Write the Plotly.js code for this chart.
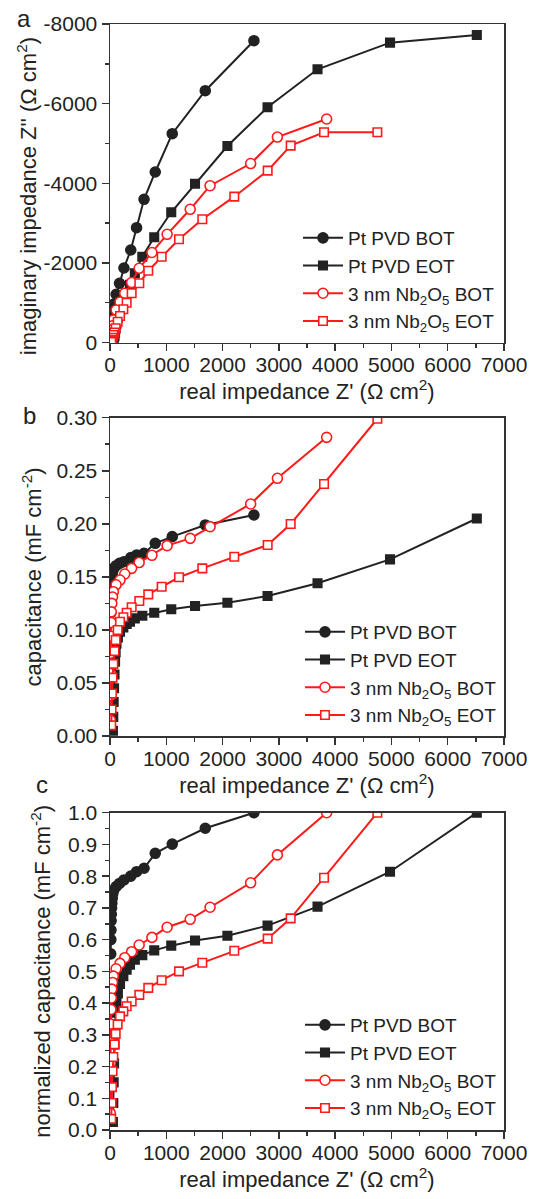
<!DOCTYPE html>
<html>
<head>
<meta charset="utf-8">
<script src="https://cdn.plot.ly/plotly-3.0.1.min.js"></script>
<style>html,body{margin:0;padding:0;background:#fff;}#chart{width:534px;height:1199px;}</style>
</head>
<body>
<div id="chart"></div>
<script>
// ---------- data ----------
const seriesNames = ["Pt PVD BOT", "Pt PVD EOT", "3 nm Nb<sub>2</sub>O<sub>5</sub> BOT", "3 nm Nb<sub>2</sub>O<sub>5</sub> EOT"];

// Pt PVD BOT
const xPtBOT = [2557, 1693, 1106, 804, 605, 472, 369, 248, 169, 109, 66, 50, 40, 33, 28, 24, 20, 17, 15, 13];
const zPtBOT = [-7581, -6325, -5245, -4283, -3597, -2884, -2324, -1871, -1487, -1211, -960, -800, -650, -500, -380, -270, -180, -110, -60, -25];
const cPtBOT = [0.2083, 0.1989, 0.1879, 0.1816, 0.1722, 0.1706, 0.1681, 0.1643, 0.1627, 0.1605, 0.158, 0.156, 0.153, 0.150, 0.147, 0.143, 0.138, 0.132, 0.125, 0.116];
const nPtBOT = [1.0, 0.951, 0.901, 0.872, 0.825, 0.814, 0.80, 0.788, 0.777, 0.767, 0.756, 0.745, 0.73, 0.715, 0.70, 0.68, 0.66, 0.63, 0.60, 0.555];

// Pt PVD EOT
const xPtEOT = [6517, 4975, 3687, 2799, 2086, 1511, 1088, 786, 574, 441, 355, 296, 237, 178, 140, 115, 100, 90, 80, 72, 65, 58, 52];
const zPtEOT = [-7724, -7531, -6863, -5908, -4936, -3989, -3271, -2643, -2155, -1738, -1450, -1230, -1010, -800, -620, -470, -350, -250, -170, -110, -65, -30, -10];
const cPtEOT = [0.205, 0.1665, 0.144, 0.132, 0.1256, 0.1225, 0.1194, 0.1162, 0.1134, 0.1109, 0.1077, 0.1055, 0.1024, 0.0983, 0.093, 0.087, 0.079, 0.070, 0.058, 0.045, 0.032, 0.018, 0.005];
const nPtEOT = [1.0, 0.814, 0.704, 0.644, 0.612, 0.597, 0.581, 0.566, 0.551, 0.537, 0.521, 0.505, 0.485, 0.46, 0.43, 0.40, 0.37, 0.33, 0.27, 0.21, 0.15, 0.085, 0.025];

// 3 nm Nb2O5 BOT
const xNbBOT = [3849, 2974, 2499, 1778, 1425, 1015, 745, 518, 384, 262, 178, 108, 60, 45, 32, 24, 18, 14, 11, 9, 7, 6];
const zNbBOT = [-5614, -5160, -4495, -3939, -3346, -2718, -2261, -1864, -1507, -1236, -1018, -816, -565, -420, -314, -230, -160, -105, -65, -38, -18, -6];
const cNbBOT = [0.2815, 0.2429, 0.2187, 0.1973, 0.1863, 0.1794, 0.1703, 0.1635, 0.158, 0.1527, 0.147, 0.1425, 0.136, 0.131, 0.125, 0.117, 0.107, 0.094, 0.078, 0.059, 0.038, 0.015];
const nNbBOT = [1.0, 0.867, 0.779, 0.702, 0.664, 0.639, 0.607, 0.583, 0.562, 0.543, 0.525, 0.508, 0.485, 0.465, 0.444, 0.416, 0.38, 0.334, 0.277, 0.21, 0.135, 0.053];

// 3 nm Nb2O5 EOT
const xNbEOT = [4750, 3803, 3210, 2801, 2208, 1640, 1226, 918, 680, 521, 385, 296, 237, 178, 136, 101, 80, 59, 45, 35, 28, 22];
const zNbEOT = [-5280, -5280, -4944, -4316, -3663, -3095, -2592, -2155, -1804, -1487, -1236, -1000, -834, -666, -523, -357, -250, -188, -120, -70, -35, -12];
const cNbEOT = [0.299, 0.2375, 0.1998, 0.180, 0.169, 0.158, 0.1496, 0.1407, 0.1335, 0.1272, 0.1213, 0.1162, 0.1119, 0.1077, 0.0999, 0.0905, 0.080, 0.068, 0.055, 0.040, 0.025, 0.010];
const nNbEOT = [1.0, 0.795, 0.667, 0.603, 0.565, 0.527, 0.50, 0.472, 0.448, 0.426, 0.405, 0.390, 0.374, 0.358, 0.333, 0.303, 0.27, 0.23, 0.185, 0.135, 0.085, 0.035];

// tick labels
const xTicks = [0, 1000, 2000, 3000, 4000, 5000, 6000, 7000];
const yTicksA = [0, -2000, -4000, -6000, -8000];
const yTickTextA = ["0", "-2000", "-4000", "-6000", "-8000"];

// ---------- styling ----------
const FONT = "Liberation Sans, Arial, Helvetica, sans-serif";
const BLACK = "#222222";
const RED = "#ff1a1a";
const AX = "#333333";

const styles = [
  {color: BLACK, symbol: "circle", size: 10, fill: BLACK},
  {color: BLACK, symbol: "square", size: 8.5, fill: BLACK},
  {color: RED, symbol: "circle", size: 10, fill: "#ffffff"},
  {color: RED, symbol: "square", size: 8.5, fill: "#ffffff"}
];

const xs = [xPtBOT, xPtEOT, xNbBOT, xNbEOT];
const panels = [
  {ys: [zPtBOT, zPtEOT, zNbBOT, zNbEOT], xa: "x", ya: "y", legend: "legend"},
  {ys: [cPtBOT, cPtEOT, cNbBOT, cNbEOT], xa: "x2", ya: "y2", legend: "legend2"},
  {ys: [nPtBOT, nPtEOT, nNbBOT, nNbEOT], xa: "x3", ya: "y3", legend: "legend3"}
];

const traces = [];
panels.forEach(p => {
  for (let i = 0; i < 4; i++) {
    const s = styles[i];
    traces.push({
      type: "scatter", mode: "lines+markers",
      x: xs[i], y: p.ys[i], xaxis: p.xa, yaxis: p.ya, legend: p.legend,
      name: seriesNames[i],
      line: {color: s.color, width: 2},
      marker: {symbol: s.symbol, size: s.size, color: s.fill, line: {color: s.color, width: 1.6}},
      hoverinfo: "skip"
    });
  }
});

// ---------- layout ----------
const plotL = 110, plotR = 504, plotT = 24, plotB = 1130;
const ph = plotB - plotT, pw = plotR - plotL;
const py = v => (plotB - v) / ph;   // pixel row -> paper y
const px = v => (v - plotL) / pw;   // pixel col -> paper x

const tickFont = {family: FONT, size: 21, color: BLACK};
const titleFont = {family: FONT, size: 22, color: BLACK};

function xAxis(anchor, standoff) {
  return {
    anchor: anchor, range: [0, 7000], tickmode: "array", tickvals: xTicks,
    ticks: "outside", ticklen: 7, tickwidth: 1.5, tickcolor: AX, ticklabelstandoff: -4,
    minor: {tickmode: "linear", tick0: 0, dtick: 500, ticks: "outside", ticklen: 4, tickwidth: 1.5, tickcolor: AX},
    showline: true, linecolor: AX, linewidth: 1.5, mirror: true,
    showgrid: false, zeroline: false, tickfont: tickFont,
    title: {text: "real impedance Z' (Ω cm<sup>2</sup>)", font: titleFont, standoff: standoff},
    automargin: false
  };
}
function yAxisBase(anchor, domain) {
  return {
    anchor: anchor, domain: domain,
    ticks: "outside", ticklen: 7, tickwidth: 1.5, tickcolor: AX,
    showline: true, linecolor: AX, linewidth: 1.5, mirror: true,
    showgrid: false, zeroline: false, tickfont: tickFont, automargin: false
  };
}

const domA = [py(342.5), 1];
const domB = [py(736), py(417.7)];
const domC = [0, py(812.7)];

const yA = Object.assign(yAxisBase("x", domA), {
  range: [0, -8000], tickmode: "array", tickvals: yTicksA, ticktext: yTickTextA,
  minor: {tickmode: "linear", tick0: 0, dtick: 1000, ticks: "outside", ticklen: 4, tickwidth: 1.5, tickcolor: AX}
});
const yB = Object.assign(yAxisBase("x2", domB), {
  range: [0, 0.30], tickmode: "linear", tick0: 0, dtick: 0.05, tickformat: ".2f",
  minor: {tickmode: "linear", tick0: 0, dtick: 0.025, ticks: "outside", ticklen: 4, tickwidth: 1.5, tickcolor: AX},
  title: {text: "capacitance (mF cm<sup>-2</sup>)", font: titleFont, standoff: 8}
});
const yC = Object.assign(yAxisBase("x3", domC), {
  range: [0, 1.0], tickmode: "linear", tick0: 0, dtick: 0.1, tickformat: ".1f",
  minor: {tickmode: "linear", tick0: 0, dtick: 0.05, ticks: "outside", ticklen: 4, tickwidth: 1.5, tickcolor: AX},
  title: {text: "normalized capacitance (mF cm<sup>-2</sup>)", font: titleFont, standoff: 11}
});

function legendAt(topPx, leftPx) {
  return {
    x: px(leftPx), xanchor: "left", y: py(topPx), yanchor: "top",
    font: {family: FONT, size: 19, color: BLACK}, bgcolor: "rgba(0,0,0,0)",
    borderwidth: 0, itemwidth: 40, tracegroupgap: 0
  };
}

const layout = {
  width: 534, height: 1199,
  margin: {l: plotL, r: 534 - plotR, t: plotT, b: 1199 - plotB, pad: 0},
  paper_bgcolor: "#ffffff", plot_bgcolor: "#ffffff",
  font: {family: FONT, color: BLACK},
  showlegend: true,
  xaxis: xAxis("y", 1),
  xaxis2: xAxis("y2", 1),
  xaxis3: xAxis("y3", 1),
  yaxis: yA, yaxis2: yB, yaxis3: yC,
  legend: legendAt(219, 298),
  legend2: legendAt(613, 300),
  legend3: legendAt(1006, 300),
  annotations: [
    {text: "a", xref: "paper", yref: "paper", x: px(24), y: py(18.5), xanchor: "center", yanchor: "middle", showarrow: false, font: {family: FONT, size: 24, color: BLACK}},
    {text: "b", xref: "paper", yref: "paper", x: px(29.5), y: py(415), xanchor: "center", yanchor: "middle", showarrow: false, font: {family: FONT, size: 24, color: BLACK}},
    {text: "c", xref: "paper", yref: "paper", x: px(41.7), y: py(784.5), xanchor: "center", yanchor: "middle", showarrow: false, font: {family: FONT, size: 24, color: BLACK}},
    {text: "imaginary impedance Z'' (Ω cm<sup>2</sup>)", xref: "paper", yref: "paper", x: px(27.7), y: py(196.5), xanchor: "center", yanchor: "middle", textangle: -90, showarrow: false, font: titleFont}
  ]
};

Plotly.newPlot("chart", traces, layout, {displayModeBar: false, staticPlot: true});
</script>
</body>
</html>
